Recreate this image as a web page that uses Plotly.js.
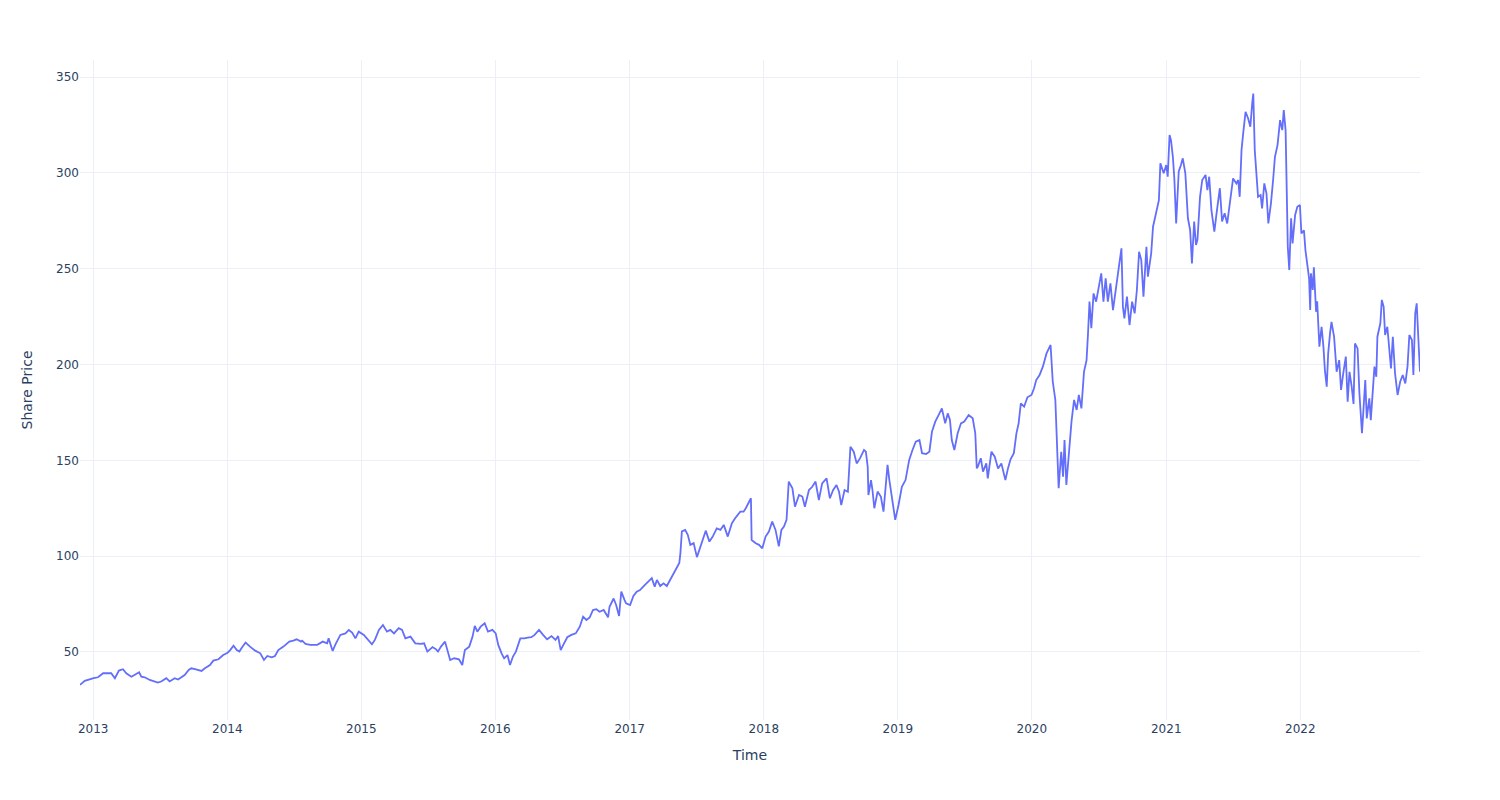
<!DOCTYPE html>
<html>
<head>
<meta charset="utf-8">
<script src="https://cdn.plot.ly/plotly-3.0.1.min.js"></script>
<style>html,body{margin:0;padding:0;background:#fff;}#chart{width:1500px;height:800px;}</style>
</head>
<body>
<div id="chart"></div>
<script>
const dates = [
"2012-11-26","2012-12-09",
"2013-01-02","2013-01-14","2013-01-28","2013-02-19","2013-03-01","2013-03-12","2013-03-23","2013-04-01","2013-04-15","2013-04-24",
"2013-05-06","2013-05-12","2013-05-21","2013-06-04","2013-06-26","2013-07-05","2013-07-19","2013-07-28","2013-08-11","2013-08-20",
"2013-08-29","2013-09-07","2013-09-18","2013-09-25","2013-10-05","2013-10-23","2013-11-01","2013-11-15","2013-11-24","2013-12-08","2013-12-21",
"2014-01-02","2014-01-09","2014-01-18","2014-01-27","2014-02-03","2014-02-10","2014-02-20","2014-03-04","2014-03-18","2014-04-01",
"2014-04-11","2014-04-20","2014-05-02","2014-05-11","2014-05-20","2014-06-03","2014-06-19","2014-06-30","2014-07-09","2014-07-21",
"2014-07-24","2014-08-02","2014-08-15","2014-09-03","2014-09-18","2014-09-30","2014-10-04","2014-10-15","2014-10-22","2014-11-05",
"2014-11-19","2014-11-28","2014-12-07","2014-12-16","2014-12-25",
"2015-01-08","2015-01-17","2015-01-30","2015-02-07","2015-02-18","2015-03-01","2015-03-12","2015-03-21","2015-03-31","2015-04-13",
"2015-04-22","2015-05-01","2015-05-15","2015-05-28","2015-06-12","2015-06-21","2015-06-30","2015-07-14","2015-07-23","2015-07-29",
"2015-08-06","2015-08-17","2015-08-24","2015-08-31","2015-09-11","2015-09-24","2015-10-03","2015-10-10","2015-10-22","2015-10-31",
"2015-11-06","2015-11-13","2015-11-22","2015-12-03","2015-12-12","2015-12-24",
"2016-01-02","2016-01-09","2016-01-18","2016-01-25","2016-02-03","2016-02-10","2016-02-18","2016-02-26","2016-03-09","2016-03-20",
"2016-03-29","2016-04-08","2016-04-17","2016-04-29","2016-05-10","2016-05-21","2016-06-02","2016-06-13","2016-06-20","2016-06-27",
"2016-07-04","2016-07-15","2016-07-26","2016-08-07","2016-08-18","2016-08-27","2016-09-05","2016-09-14","2016-09-23","2016-10-02",
"2016-10-11","2016-10-22","2016-11-03","2016-11-07","2016-11-18","2016-11-25","2016-12-03","2016-12-09","2016-12-18","2016-12-22",
"2017-01-02","2017-01-11","2017-01-20","2017-01-29","2017-02-08","2017-02-21","2017-03-02","2017-03-10","2017-03-16","2017-03-25",
"2017-04-03","2017-04-12","2017-04-21","2017-04-30","2017-05-09","2017-05-16","2017-05-19","2017-05-23","2017-06-01","2017-06-08",
"2017-06-15","2017-06-24","2017-07-03","2017-07-12","2017-07-21","2017-07-27","2017-08-06","2017-08-15","2017-08-26","2017-09-05",
"2017-09-14","2017-09-25","2017-10-06","2017-10-15","2017-10-29","2017-11-07","2017-11-13","2017-11-23","2017-11-27","2017-11-29",
"2017-12-10","2017-12-19","2017-12-28",
"2018-01-06","2018-01-15","2018-01-24","2018-02-02","2018-02-11","2018-02-18","2018-02-25","2018-03-04","2018-03-10","2018-03-20",
"2018-03-27","2018-04-07","2018-04-16","2018-04-23","2018-05-04","2018-05-13","2018-05-22","2018-05-31","2018-06-09","2018-06-21",
"2018-06-30","2018-07-09","2018-07-18","2018-07-25","2018-07-31","2018-08-09","2018-08-18","2018-08-25","2018-09-03","2018-09-11",
"2018-09-20","2018-10-01","2018-10-06","2018-10-11","2018-10-13","2018-10-20","2018-10-24","2018-10-29","2018-11-07","2018-11-16",
"2018-11-23","2018-11-30","2018-12-04","2018-12-09","2018-12-18","2018-12-25",
"2019-01-03","2019-01-12","2019-01-22","2019-02-01","2019-02-10","2019-02-19","2019-03-01","2019-03-08","2019-03-19","2019-03-28",
"2019-04-04","2019-04-13","2019-04-22","2019-05-01","2019-05-10","2019-05-17","2019-05-23","2019-05-28","2019-06-04","2019-06-13",
"2019-06-22","2019-07-01","2019-07-13","2019-07-24","2019-07-31","2019-08-04","2019-08-07","2019-08-15","2019-08-21","2019-08-30",
"2019-09-03","2019-09-13","2019-09-22","2019-10-01","2019-10-10","2019-10-21","2019-10-28","2019-11-04","2019-11-13","2019-11-20",
"2019-11-26","2019-12-02","2019-12-11","2019-12-20","2019-12-31",
"2020-01-07","2020-01-13","2020-01-22","2020-01-31","2020-02-10","2020-02-21","2020-02-27","2020-03-05","2020-03-12","2020-03-14",
"2020-03-21","2020-03-26","2020-03-30","2020-04-04","2020-04-11","2020-04-18","2020-04-25","2020-05-02","2020-05-08","2020-05-15",
"2020-05-22","2020-05-29","2020-06-02","2020-06-06","2020-06-11","2020-06-17","2020-06-24","2020-07-02","2020-07-08","2020-07-14",
"2020-07-20","2020-07-26","2020-08-02","2020-08-09","2020-08-18","2020-08-25","2020-09-01","2020-09-05","2020-09-09","2020-09-16",
"2020-09-23","2020-09-30","2020-10-07","2020-10-13","2020-10-19","2020-10-25","2020-10-31","2020-11-08","2020-11-12","2020-11-21",
"2020-11-26","2020-12-05","2020-12-12","2020-12-16","2020-12-25",
"2021-01-01","2021-01-05","2021-01-10","2021-01-14","2021-01-19","2021-01-23","2021-01-28","2021-02-04","2021-02-10","2021-02-15",
"2021-02-22","2021-03-01","2021-03-07","2021-03-12","2021-03-18","2021-03-23","2021-03-27","2021-04-03","2021-04-09","2021-04-18",
"2021-04-23","2021-04-28","2021-05-04","2021-05-12","2021-05-18","2021-05-27","2021-06-02","2021-06-09","2021-06-16","2021-06-26",
"2021-07-02","2021-07-11","2021-07-16","2021-07-20","2021-07-25","2021-07-29","2021-08-05","2021-08-12","2021-08-18","2021-08-23",
"2021-08-26","2021-08-30","2021-09-04","2021-09-08","2021-09-15","2021-09-19","2021-09-25","2021-10-01","2021-10-06","2021-10-13",
"2021-10-19","2021-10-24","2021-10-31","2021-11-07","2021-11-13","2021-11-17","2021-11-22","2021-11-25","2021-11-28","2021-12-02",
"2021-12-07","2021-12-11","2021-12-18","2021-12-24","2021-12-31",
"2022-01-04","2022-01-11","2022-01-15","2022-01-20","2022-01-25","2022-01-28","2022-01-30","2022-02-04","2022-02-07","2022-02-13",
"2022-02-16","2022-02-22","2022-02-28","2022-03-05","2022-03-09","2022-03-14","2022-03-18","2022-03-23","2022-03-27","2022-04-03",
"2022-04-10","2022-04-17","2022-04-22","2022-04-28","2022-05-05","2022-05-10","2022-05-15","2022-05-21","2022-05-26","2022-05-30",
"2022-06-06","2022-06-11","2022-06-18","2022-06-22","2022-06-27","2022-07-01","2022-07-08","2022-07-12","2022-07-18","2022-07-22",
"2022-07-27","2022-07-30","2022-08-07","2022-08-11","2022-08-16","2022-08-20","2022-08-26","2022-09-01","2022-09-05","2022-09-10",
"2022-09-16","2022-09-23","2022-09-30","2022-10-07","2022-10-14","2022-10-20","2022-10-25","2022-11-01","2022-11-05","2022-11-10",
"2022-11-14","2022-11-20","2022-11-23"
];

const sharePrice = [
32.8,34.9,
36.3,36.8,38.9,38.9,36.3,40.3,41.0,38.9,37.1,38.0,
39.4,37.1,36.8,35.4,34.0,34.6,36.3,34.6,36.3,35.6,
36.8,38.0,40.6,41.5,41.0,40.1,41.5,43.2,45.5,46.2,48.4,
49.6,51.0,53.3,51.0,50.2,52.3,54.9,52.8,50.7,49.3,
45.8,47.9,47.2,47.9,51.0,52.8,55.4,55.9,56.6,55.4,
55.9,54.2,53.7,53.7,55.4,54.5,57.1,50.5,53.7,58.9,
59.7,61.5,60.1,57.1,60.6,
58.9,57.1,54.0,56.3,61.5,64.1,60.6,61.5,59.7,62.4,
61.5,57.1,58.0,54.5,54.2,54.5,50.2,52.5,51.5,50.2,
52.8,55.4,50.2,45.8,46.7,46.2,43.2,51.0,52.8,58.0,
63.6,60.6,63.2,65.0,60.6,61.5,
59.7,53.7,49.3,46.7,48.4,43.2,47.6,50.2,57.1,57.1,
57.5,57.7,58.9,61.5,58.9,56.6,58.3,56.3,58.3,51.0,
53.7,57.7,58.9,59.7,63.2,68.4,66.7,68.0,71.9,72.3,
71.0,71.9,68.1,73.6,77.9,74.5,68.8,81.5,77.1,75.4,
74.5,79.2,81.5,82.3,84.4,86.7,88.5,84.1,87.6,84.4,
85.8,84.4,87.6,91.2,93.7,96.4,101.6,112.9,113.7,111.1,
105.9,106.8,99.5,105.1,109.5,113.3,107.6,110.2,114.5,113.7,
116.3,110.2,117.1,119.8,123.2,123.2,125.0,128.4,130.2,108.4,
106.7,105.9,104.1,
110.2,112.8,118.1,113.7,105.1,113.7,115.4,118.9,138.9,135.4,
125.8,131.9,131.1,125.8,134.5,136.2,138.9,129.3,138.0,140.6,
130.2,134.5,137.1,133.6,126.7,134.5,133.6,157.1,154.5,148.4,
151.0,155.4,154.5,146.7,131.9,139.7,134.5,125.0,133.7,131.0,
123.2,141.5,147.6,139.7,127.6,118.9,
126.7,136.2,139.7,150.2,155.4,159.7,160.6,153.7,153.3,154.5,
164.9,170.2,173.6,177.1,169.3,174.5,171.1,160.6,155.4,164.1,
169.3,170.2,173.6,171.9,164.1,145.8,146.7,151.1,144.1,148.4,
140.6,154.5,151.9,145.8,148.4,139.7,145.8,150.5,153.7,164.1,
169.3,179.7,178.0,182.9,184.1,
187.6,191.9,194.5,198.9,205.8,210.2,191.0,181.5,150.2,135.4,
154.5,141.5,160.6,137.1,153.7,170.2,181.5,176.3,184.1,177.1,
196.2,202.3,216.3,232.8,218.9,237.1,232.8,240.6,247.6,232.8,
245.0,232.8,242.4,228.4,242.4,251.0,260.6,230.2,224.1,235.4,
220.6,232.8,226.7,238.9,258.8,254.5,235.4,261.4,245.8,258.0,
271.9,280.6,285.8,305.0,299.8,
304.1,298.0,319.7,317.0,308.4,297.1,273.6,300.7,304.1,307.6,
299.8,276.3,270.2,252.8,274.6,262.4,265.0,287.5,296.3,298.9,
291.0,298.0,280.6,269.3,278.9,292.0,274.6,278.9,273.6,287.5,
297.1,294.5,296.3,287.5,311.9,319.7,331.9,328.4,324.1,336.2,
341.4,311.9,296.3,287.5,288.4,281.4,294.5,289.2,273.6,284.0,
296.3,308.4,314.5,327.5,322.3,332.8,322.3,296.3,261.4,249.3,
276.3,263.2,278.0,282.3,283.2,
268.4,270.0,259.7,253.6,245.0,228.4,247.6,238.9,250.7,227.5,
233.0,209.3,219.7,209.3,197.1,188.4,205.8,216.2,222.3,214.5,
196.2,202.3,186.7,195.4,204.1,180.6,196.2,188.4,179.4,211.0,
208.4,185.0,164.1,176.3,191.9,171.9,182.4,171.0,188.4,198.9,
193.6,214.5,221.5,233.7,230.2,215.4,219.7,207.6,198.0,214.5,
195.4,184.1,191.0,194.5,190.1,198.9,215.4,212.8,194.5,226.7,
231.9,207.6,196.2
];

const xTitle = "Time";
const yTitle = "Share Price";

const trace = {
  x: dates,
  y: sharePrice,
  type: "scatter",
  mode: "lines",
  line: {color: "#636efa", width: 1.8},
  hoverinfo: "skip"
};

const layout = {
  width: 1500,
  height: 800,
  margin: {l: 80, r: 80, t: 60, b: 80},
  paper_bgcolor: "#ffffff",
  plot_bgcolor: "#ffffff",
  font: {family: "'DejaVu Sans', Verdana, sans-serif", size: 12, color: "#2a3f5f"},
  showlegend: false,
  xaxis: {
    type: "date",
    range: ["2012-11-26", "2022-11-23"],
    title: {text: xTitle, font: {size: 14}, standoff: 15},
    automargin: false,
    gridcolor: "#EBF0F8",
    showline: false,
    zeroline: false,
    ticks: "",
    dtick: "M12",
    tick0: "2013-01-01",
    tickformat: "%Y"
  },
  yaxis: {
    range: [14.5, 358.9],
    title: {text: yTitle, font: {size: 14}, standoff: 20},
    automargin: false,
    gridcolor: "#EBF0F8",
    zeroline: false,
    showline: false,
    ticks: "",
    dtick: 50,
    tick0: 0
  }
};

Plotly.newPlot("chart", [trace], layout, {displayModeBar: false, staticPlot: true});
</script>
</body>
</html>
